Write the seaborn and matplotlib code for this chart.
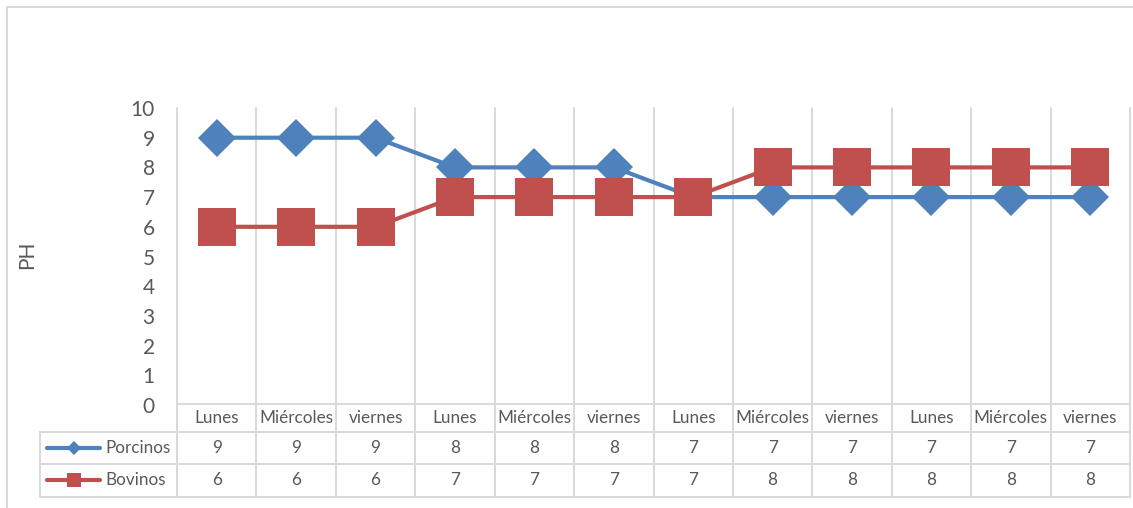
import numpy as np
import pandas as pd
import matplotlib
matplotlib.use("Agg")
import matplotlib.pyplot as plt
import seaborn as sns
from matplotlib.transforms import blended_transform_factory
from matplotlib.lines import Line2D

# ---------------- data ----------------
categories = ["Lunes", "Miércoles", "viernes", "Lunes", "Miércoles", "viernes",
              "Lunes", "Miércoles", "viernes", "Lunes", "Miércoles", "viernes"]
porcinos = [9, 9, 9, 8, 8, 8, 7, 7, 7, 7, 7, 7]
bovinos = [6, 6, 6, 7, 7, 7, 7, 8, 8, 8, 8, 8]
series_names = ["Porcinos", "Bovinos"]
y_label = "PH"
y_ticks = list(range(0, 11))

# ---------------- style ----------------
W, H = 1133, 508
sns.set_theme(style="white")
plt.rcParams['font.family'] = ['Lato', 'DejaVu Sans']
TXT = "#595959"
GRID = "#d9d9d9"
BLUE = "#4F81BD"
RED = "#C0504D"
TFS = 12.3

fig = plt.figure(figsize=(W / 100, H / 100), dpi=100)
fig.patch.set_facecolor("white")


def fx(px):
    return px / W


def fy(py):
    return 1 - py / H


ax = fig.add_axes([fx(177), fy(405), fx(1130) - fx(177), fy(108) - fy(405)])
ax.set_facecolor("none")

df = pd.DataFrame({"pos": np.arange(len(categories)),
                   series_names[0]: porcinos,
                   series_names[1]: bovinos})

sns.lineplot(data=df, x="pos", y=series_names[0], ax=ax, color=BLUE,
             linewidth=3, marker="D", markersize=19.5, markeredgewidth=0,
             zorder=3)
sns.lineplot(data=df, x="pos", y=series_names[1], ax=ax, color=RED,
             linewidth=3, marker="s", markersize=27, markeredgewidth=0,
             zorder=4)

n = len(categories)
blend = blended_transform_factory(ax.transData, fig.transFigure)

# vertical grid lines (plot + table)
for b in np.arange(-0.5, n + 0.5, 1.0):
    ax.add_line(Line2D([b, b], [fy(108), fy(497)], transform=blend,
                       color=GRID, lw=1.4, clip_on=False, zorder=0))

ax.set_xlim(-0.5, n - 0.5)
ax.set_ylim(0, 10)
ax.set_xticks([])
ax.set_yticks(y_ticks)
ax.set_yticklabels([str(t) for t in y_ticks], color=TXT, fontsize=15)
ax.tick_params(axis="y", length=0, pad=16)
ax.set_xlabel("")
ax.set_ylabel("")
for s in ax.spines.values():
    s.set_visible(False)

# table horizontal lines
fig.add_artist(Line2D([fx(177), fx(1130)], [fy(404), fy(404)], color=GRID, lw=1.4))
for yy in (432, 464, 497):
    fig.add_artist(Line2D([fx(40), fx(1130)], [fy(yy), fy(yy)], color=GRID, lw=1.4))
fig.add_artist(Line2D([fx(40), fx(40)], [fy(432), fy(497)], color=GRID, lw=1.4))

# table text
for i, c in enumerate(categories):
    ax.text(i, fy(418), c, transform=blend, ha="center", va="center",
            color=TXT, fontsize=TFS)
    ax.text(i, fy(448), str(porcinos[i]), transform=blend, ha="center",
            va="center", color=TXT, fontsize=TFS)
    ax.text(i, fy(480), str(bovinos[i]), transform=blend, ha="center",
            va="center", color=TXT, fontsize=TFS)

# legend keys in table
for row_y, col, mk, ms, name in ((448, BLUE, "D", 7, series_names[0]),
                                 (480, RED, "s", 10, series_names[1])):
    fig.add_artist(Line2D([fx(47), fx(100)], [fy(row_y), fy(row_y)],
                          color=col, lw=3, solid_capstyle="round"))
    fig.add_artist(Line2D([fx(74)], [fy(row_y)], color=col, marker=mk,
                          markersize=ms, markeredgewidth=0, lw=0))
    fig.text(fx(105), fy(row_y), name, ha="left", va="center",
             color=TXT, fontsize=TFS)

# axis title
fig.text(fx(27), fy(255), y_label, rotation=90, ha="center", va="center",
         color=TXT, fontsize=15)

# outer chart frame (left + top visible)
fig.add_artist(Line2D([fx(7), fx(7)], [fy(7), fy(510)], color=GRID, lw=1.4))
fig.add_artist(Line2D([fx(7), fx(1135)], [fy(7), fy(7)], color=GRID, lw=1.4))

fig.savefig("out.png", dpi=100, facecolor="white")
